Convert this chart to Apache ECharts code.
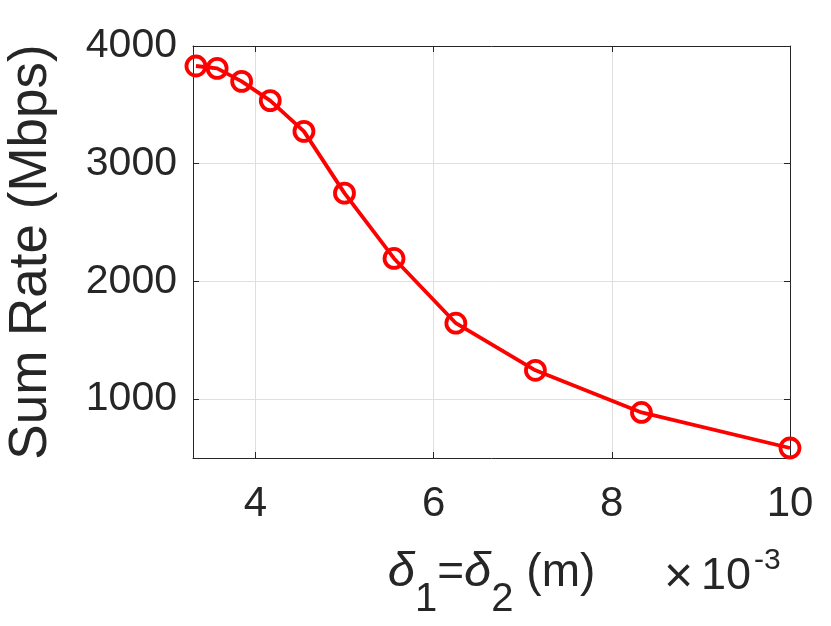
<!DOCTYPE html>
<html><head><meta charset="utf-8">
<script src="https://cdn.jsdelivr.net/npm/echarts@6/dist/echarts.min.js"></script>
<style>html,body{margin:0;padding:0;background:#fff}#c{width:831px;height:626px}</style>
</head><body><div id="c"></div>
<script>
// delta values (units of 1e-3 m)
const deltaVals = [3.333, 3.571, 3.846, 4.167, 4.545, 5.0, 5.556, 6.25, 7.143, 8.333, 10.0];
// Sum rate (Mbps)
const sumRate = [3830, 3810, 3700, 3536, 3275, 2750, 2195, 1645, 1245, 887, 585];
const xTicks = [4, 6, 8, 10];
const yTicks = [1000, 2000, 3000, 4000];
const xRange = [3.3, 10];
const yRange = [500, 4000];

const FN = '"Liberation Sans", Arial, Helvetica, sans-serif';
const AX = '#262626';
const GRID = '#dfdfdf';

const chart = echarts.init(document.getElementById('c'), null, {renderer: 'canvas'});

function xAx(pos, main) {
  return {
    type: 'value', position: pos, min: xRange[0], max: xRange[1],
    axisLine: {show: true, onZero: false, lineStyle: {color: AX, width: 1}},
    axisTick: {show: true, inside: true, length: 6, customValues: xTicks, lineStyle: {color: AX}},
    axisLabel: {show: main, customValues: xTicks, margin: 25, color: AX, fontSize: 42, fontFamily: FN,
      formatter: v => String(v)},
    splitLine: {show: main, lineStyle: {color: GRID, width: 1}},
    name: main ? '{d|δ}{s|1}{t|=}{d|δ}{s|2}{t| (m)}' : '',
    nameLocation: 'middle', nameGap: 90,
    nameTextStyle: {
      rich: {
        d: {fontSize: 49, fontFamily: FN, fontStyle: 'italic', color: AX, verticalAlign: 'top'},
        t: {fontSize: 46, fontFamily: FN, color: AX, verticalAlign: 'top', padding: [2, 0, 0, 0]},
        s: {fontSize: 40, fontFamily: FN, color: AX, verticalAlign: 'top', padding: [32, 0, 0, 0]}
      }
    }
  };
}
function yAx(pos, main) {
  return {
    type: 'value', position: pos, min: yRange[0], max: yRange[1],
    axisLine: {show: true, onZero: false, lineStyle: {color: AX, width: 1}},
    axisTick: {show: true, inside: true, length: 6, customValues: yTicks, lineStyle: {color: AX}},
    axisLabel: {show: main, customValues: yTicks, margin: 16, color: AX, fontSize: 41, fontFamily: FN,
      formatter: v => String(v)},
    splitLine: {show: main, lineStyle: {color: GRID, width: 1}},
    name: main ? 'Sum Rate (Mbps)' : '',
    nameLocation: 'middle', nameGap: 135, nameRotate: 90,
    nameTextStyle: {fontSize: 53, fontFamily: FN, color: AX}
  };
}

chart.setOption({
  animation: false,
  backgroundColor: '#fff',
  grid: {left: 193, right: 41, top: 46, bottom: 168, containLabel: false, outerBoundsMode: 'none'},
  xAxis: [xAx('bottom', true), xAx('top', false)],
  yAxis: [yAx('left', true), yAx('right', false)],
  graphic: [
    {type: 'text', left: 664, top: 553, style: {text: '×', fontSize: 50, fontFamily: FN, fill: AX}},
    {type: 'text', left: 701, top: 554, style: {text: '10', fontSize: 45, fontFamily: FN, fill: AX}},
    {type: 'text', left: 754, top: 546, style: {text: '-3', fontSize: 30, fontFamily: FN, fill: AX}}
  ],
  series: [{
    type: 'line',
    data: deltaVals.map((x, i) => [x, sumRate[i]]),
    xAxisIndex: 0, yAxisIndex: 0,
    symbol: 'circle', symbolSize: 19,
    itemStyle: {color: 'rgba(0,0,0,0)', borderColor: '#ff0000', borderWidth: 3.8},
    lineStyle: {color: '#ff0000', width: 3.8},
    clip: false
  }]
});
</script></body></html>
